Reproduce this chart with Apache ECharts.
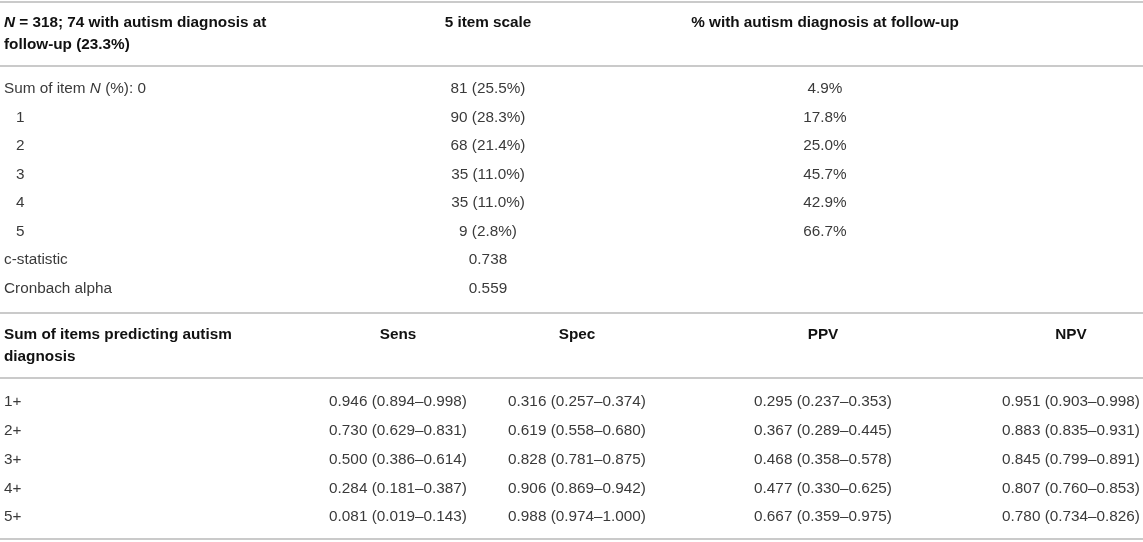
<!DOCTYPE html>
<html>
<head>
<meta charset="utf-8">
<script src="https://cdn.jsdelivr.net/npm/echarts@6/dist/echarts.min.js"></script>
<style>
  html, body { margin: 0; padding: 0; background: #fff; }
  #main { width: 1143px; height: 542px; }
</style>
</head>
<body>
<div id="main"></div>
<script>
// --- data: upper block (5 item scale) ---
const topLabels = ['Sum of item {i|N} (%): 0', '1', '2', '3', '4', '5', 'c-statistic', 'Cronbach alpha'];
const itemCounts = [81, 90, 68, 35, 35, 9];
const itemPct = [25.5, 28.3, 21.4, 11.0, 11.0, 2.8];
const diagPct = [4.9, 17.8, 25.0, 45.7, 42.9, 66.7];
const cStatistic = 0.738;
const cronbachAlpha = 0.559;

// --- data: lower block (cut-offs) ---
const cutoffs = ['1+', '2+', '3+', '4+', '5+'];
const sens = [[0.946, 0.894, 0.998], [0.730, 0.629, 0.831], [0.500, 0.386, 0.614], [0.284, 0.181, 0.387], [0.081, 0.019, 0.143]];
const spec = [[0.316, 0.257, 0.374], [0.619, 0.558, 0.680], [0.828, 0.781, 0.875], [0.906, 0.869, 0.942], [0.988, 0.974, 1.000]];
const ppv = [[0.295, 0.237, 0.353], [0.367, 0.289, 0.445], [0.468, 0.358, 0.578], [0.477, 0.330, 0.625], [0.667, 0.359, 0.975]];
const npv = [[0.951, 0.903, 0.998], [0.883, 0.835, 0.931], [0.845, 0.799, 0.891], [0.807, 0.760, 0.853], [0.780, 0.734, 0.826]];

// --- layout ---
const W = 1143, H = 542;
const FONT = '"Liberation Sans", Arial, Helvetica, sans-serif';
const FS = 15.3;
const ruleYs = [2, 66, 313, 378, 539];
const topRowYs = [89, 117.5, 146, 174.5, 203, 231.5, 260, 288.5];
const botRowYs = [402, 431, 460, 488.5, 517];
const colTop = [488, 825];
const colBot = [398, 577, 823, 1071];

const ci = v => v[0].toFixed(3) + ' (' + v[1].toFixed(3) + '\u2013' + v[2].toFixed(3) + ')';

// cells: [x, y, text, align, kind]
const cells = [];
cells.push([4, 34, '{bi|N} = 318; 74 with autism diagnosis at\nfollow-up (23.3%)', 'left', 'h']);
cells.push([colTop[0], 23, '5 item scale', 'center', 'h']);
cells.push([colTop[1], 23, '% with autism diagnosis at follow-up', 'center', 'h']);
topLabels.forEach((t, i) => {
  const indent = (i >= 1 && i <= 5) ? 16 : 4;
  cells.push([indent, topRowYs[i], t, 'left', 'b']);
});
itemCounts.forEach((n, i) => {
  cells.push([colTop[0], topRowYs[i], n + ' (' + itemPct[i].toFixed(1) + '%)', 'center', 'b']);
  cells.push([colTop[1], topRowYs[i], diagPct[i].toFixed(1) + '%', 'center', 'b']);
});
cells.push([colTop[0], topRowYs[6], cStatistic.toFixed(3), 'center', 'b']);
cells.push([colTop[0], topRowYs[7], cronbachAlpha.toFixed(3), 'center', 'b']);

cells.push([4, 346, 'Sum of items predicting autism\ndiagnosis', 'left', 'h']);
['Sens', 'Spec', 'PPV', 'NPV'].forEach((t, j) => cells.push([colBot[j], 335, t, 'center', 'h']));
cutoffs.forEach((c, i) => {
  cells.push([4, botRowYs[i], c, 'left', 'b']);
  [sens, spec, ppv, npv].forEach((arr, j) => cells.push([colBot[j], botRowYs[i], ci(arr[i]), 'center', 'b']));
});

const chart = echarts.init(document.getElementById('main'));
chart.setOption({
  animation: false,
  backgroundColor: '#fff',
  grid: { left: 0, right: 0, top: 0, bottom: 0 },
  xAxis: { type: 'value', min: 0, max: W, show: false },
  yAxis: { type: 'value', min: 0, max: H, inverse: true, show: false },
  series: [
    {
      type: 'custom',
      data: ruleYs.map(y => [0, y]),
      encode: { x: 0, y: 1 },
      renderItem: (params, api) => {
        const a = api.coord([0, api.value(1)]);
        const b = api.coord([W, api.value(1)]);
        return { type: 'line', shape: { x1: a[0], y1: a[1], x2: b[0], y2: b[1] }, style: { stroke: '#b8b8b8', lineWidth: 1.5 } };
      }
    },
    {
      type: 'custom',
      data: cells.map(c => [c[0], c[1]]),
      encode: { x: 0, y: 1 },
      renderItem: (params, api) => {
        const c = cells[params.dataIndex];
        const p = api.coord([api.value(0), api.value(1)]);
        const bold = c[4] === 'h';
        return {
          type: 'text', x: p[0], y: p[1],
          style: {
            text: c[2], align: c[3], verticalAlign: 'middle',
            fontFamily: FONT, fontSize: FS, fontWeight: bold ? 'bold' : 'normal',
            fill: bold ? '#111' : '#3a3a3a', lineHeight: 22,
            rich: {
              i: { fontFamily: FONT, fontSize: FS, fontStyle: 'italic', fill: '#3a3a3a' },
              bi: { fontFamily: FONT, fontSize: FS, fontStyle: 'italic', fontWeight: 'bold', fill: '#111', lineHeight: 22 }
            }
          }
        };
      }
    }
  ]
});
</script>
</body>
</html>
